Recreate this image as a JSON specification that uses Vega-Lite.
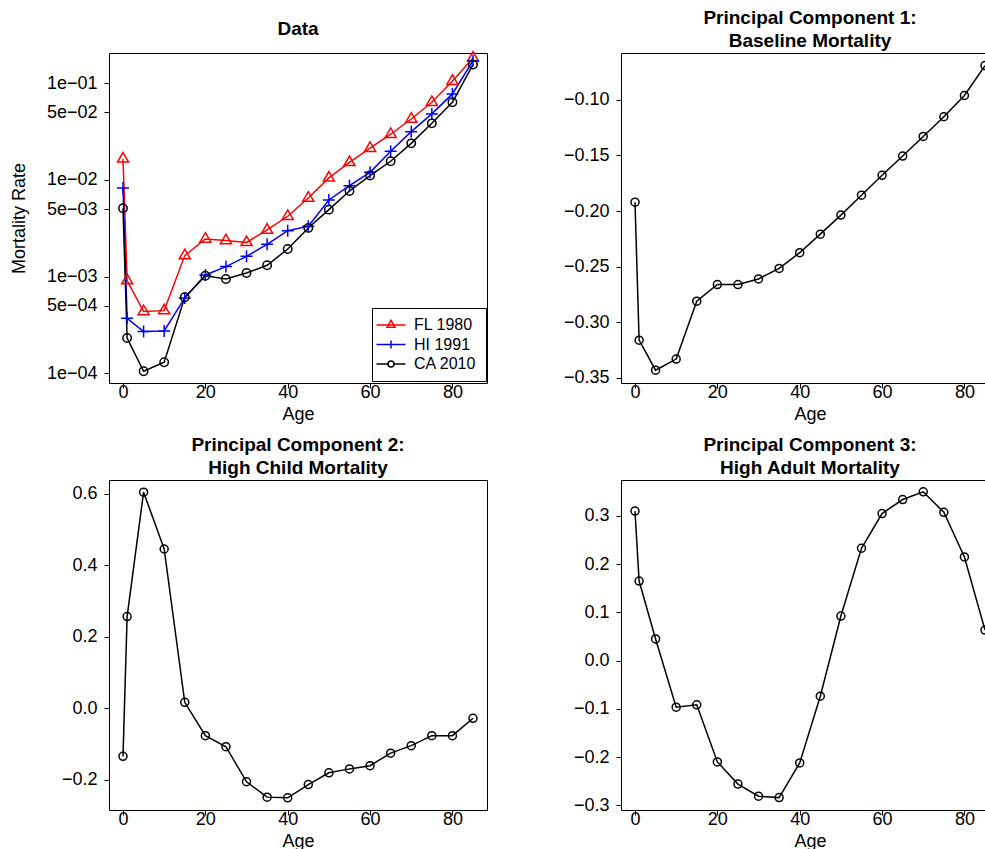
{
  "$schema": "https://vega.github.io/schema/vega-lite/v6.json",
  "padding": {"left": 9, "top": 8, "right": 0, "bottom": 0},
  "background": "white",
  "config": {
    "font": "Liberation Sans",
    "view": {"stroke": "black", "strokeWidth": 1},
    "axis": {"grid": false, "domain": false, "ticks": true, "tickColor": "black", "tickSize": 5, "tickWidth": 1,
      "labelFont": "Liberation Sans", "labelFontSize": 18, "labelColor": "black", "labelFlush": false, "labelOverlap": false,
      "titleFont": "Liberation Sans", "titleFontSize": 18, "titleFontWeight": "normal", "titleColor": "black"},
    "axisX": {"labelPadding": -5, "titlePadding": 4},
    "axisY": {"labelPadding": 7, "titlePadding": 18},
    "title": {"font": "Liberation Sans", "fontSize": 19, "fontWeight": "bold", "color": "black", "lineHeight": 23, "anchor": "middle"}
  },
  "datasets": {
    "mort": [
      {"age": 0, "series": "FL 1980", "rate": 0.0165},
      {"age": 1, "series": "FL 1980", "rate": 0.00091},
      {"age": 5, "series": "FL 1980", "rate": 0.000435},
      {"age": 10, "series": "FL 1980", "rate": 0.000445},
      {"age": 15, "series": "FL 1980", "rate": 0.00165},
      {"age": 20, "series": "FL 1980", "rate": 0.00245},
      {"age": 25, "series": "FL 1980", "rate": 0.00236},
      {"age": 30, "series": "FL 1980", "rate": 0.00226},
      {"age": 35, "series": "FL 1980", "rate": 0.00304},
      {"age": 40, "series": "FL 1980", "rate": 0.00421},
      {"age": 45, "series": "FL 1980", "rate": 0.0065},
      {"age": 50, "series": "FL 1980", "rate": 0.0105},
      {"age": 55, "series": "FL 1980", "rate": 0.0152},
      {"age": 60, "series": "FL 1980", "rate": 0.0213},
      {"age": 65, "series": "FL 1980", "rate": 0.0297},
      {"age": 70, "series": "FL 1980", "rate": 0.0427},
      {"age": 75, "series": "FL 1980", "rate": 0.0636},
      {"age": 80, "series": "FL 1980", "rate": 0.105},
      {"age": 85, "series": "FL 1980", "rate": 0.183},
      {"age": 0, "series": "HI 1991", "rate": 0.00826},
      {"age": 1, "series": "HI 1991", "rate": 0.000371},
      {"age": 5, "series": "HI 1991", "rate": 0.00027},
      {"age": 10, "series": "HI 1991", "rate": 0.000274},
      {"age": 15, "series": "HI 1991", "rate": 0.000602},
      {"age": 20, "series": "HI 1991", "rate": 0.00104},
      {"age": 25, "series": "HI 1991", "rate": 0.00127},
      {"age": 30, "series": "HI 1991", "rate": 0.00162},
      {"age": 35, "series": "HI 1991", "rate": 0.00216},
      {"age": 40, "series": "HI 1991", "rate": 0.00299},
      {"age": 45, "series": "HI 1991", "rate": 0.00332},
      {"age": 50, "series": "HI 1991", "rate": 0.00621},
      {"age": 55, "series": "HI 1991", "rate": 0.00873},
      {"age": 60, "series": "HI 1991", "rate": 0.012},
      {"age": 65, "series": "HI 1991", "rate": 0.0198},
      {"age": 70, "series": "HI 1991", "rate": 0.0316},
      {"age": 75, "series": "HI 1991", "rate": 0.0482},
      {"age": 80, "series": "HI 1991", "rate": 0.0776},
      {"age": 85, "series": "HI 1991", "rate": 0.171},
      {"age": 0, "series": "CA 2010", "rate": 0.00509},
      {"age": 1, "series": "CA 2010", "rate": 0.000232},
      {"age": 5, "series": "CA 2010", "rate": 0.000105},
      {"age": 10, "series": "CA 2010", "rate": 0.00013},
      {"age": 15, "series": "CA 2010", "rate": 0.000611},
      {"age": 20, "series": "CA 2010", "rate": 0.00102},
      {"age": 25, "series": "CA 2010", "rate": 0.000946},
      {"age": 30, "series": "CA 2010", "rate": 0.00109},
      {"age": 35, "series": "CA 2010", "rate": 0.00131},
      {"age": 40, "series": "CA 2010", "rate": 0.00193},
      {"age": 45, "series": "CA 2010", "rate": 0.00319},
      {"age": 50, "series": "CA 2010", "rate": 0.00493},
      {"age": 55, "series": "CA 2010", "rate": 0.00769},
      {"age": 60, "series": "CA 2010", "rate": 0.0111},
      {"age": 65, "series": "CA 2010", "rate": 0.0156},
      {"age": 70, "series": "CA 2010", "rate": 0.0239},
      {"age": 75, "series": "CA 2010", "rate": 0.0385},
      {"age": 80, "series": "CA 2010", "rate": 0.0636},
      {"age": 85, "series": "CA 2010", "rate": 0.156}
    ],
    "pc": [
      {"age": 0, "pc1": -0.192, "pc2": -0.134, "pc3": 0.31},
      {"age": 1, "pc1": -0.316, "pc2": 0.257, "pc3": 0.165},
      {"age": 5, "pc1": -0.343, "pc2": 0.605, "pc3": 0.045},
      {"age": 10, "pc1": -0.333, "pc2": 0.446, "pc3": -0.0966},
      {"age": 15, "pc1": -0.281, "pc2": 0.0172, "pc3": -0.0917},
      {"age": 20, "pc1": -0.266, "pc2": -0.076, "pc3": -0.21},
      {"age": 25, "pc1": -0.266, "pc2": -0.107, "pc3": -0.256},
      {"age": 30, "pc1": -0.261, "pc2": -0.205, "pc3": -0.281},
      {"age": 35, "pc1": -0.2515, "pc2": -0.248, "pc3": -0.284},
      {"age": 40, "pc1": -0.2374, "pc2": -0.25, "pc3": -0.212},
      {"age": 45, "pc1": -0.2207, "pc2": -0.213, "pc3": -0.0738},
      {"age": 50, "pc1": -0.2036, "pc2": -0.18, "pc3": 0.0924},
      {"age": 55, "pc1": -0.1857, "pc2": -0.169, "pc3": 0.233},
      {"age": 60, "pc1": -0.1678, "pc2": -0.16, "pc3": 0.305},
      {"age": 65, "pc1": -0.1505, "pc2": -0.125, "pc3": 0.334},
      {"age": 70, "pc1": -0.1329, "pc2": -0.104, "pc3": 0.35},
      {"age": 75, "pc1": -0.1152, "pc2": -0.076, "pc3": 0.3076},
      {"age": 80, "pc1": -0.0961, "pc2": -0.076, "pc3": 0.215},
      {"age": 85, "pc1": -0.0692, "pc2": -0.0275, "pc3": 0.0634}
    ]
  },
  "columns": 2,
  "bounds": "flush",
  "spacing": {"row": 97, "column": 134},
  "concat": [
    {
      "width": 378, "height": 330,
      "title": {"text": "Data", "offset": 10},
      "data": {"name": "mort"},
      "encoding": {
        "x": {"field": "age", "type": "quantitative", "scale": {"domain": [-3.4, 88.4], "nice": false, "zero": false}, "axis": {"values": [0, 20, 40, 60, 80], "title": "Age"}},
        "y": {"field": "rate", "type": "quantitative", "scale": {"type": "log", "domain": [0.0000794, 0.2056], "nice": false},
          "axis": {"values": [0.0001, 0.0005, 0.001, 0.005, 0.01, 0.05, 0.1], "title": "Mortality Rate",
            "labelExpr": "datum.value < 0.0002 ? '1e−04' : datum.value < 0.0007 ? '5e−04' : datum.value < 0.002 ? '1e−03' : datum.value < 0.007 ? '5e−03' : datum.value < 0.02 ? '1e−02' : datum.value < 0.07 ? '5e−02' : '1e−01'"}},
        "color": {"field": "series", "type": "nominal", "scale": {"domain": ["FL 1980", "HI 1991", "CA 2010"], "range": ["#FF0000", "#0000FF", "#000000"]},
          "legend": {"title": null, "orient": "none", "legendX": 263, "legendY": 255, "strokeColor": "black", "fillColor": "white", "padding": 9, "symbolSize": 210, "symbolStrokeWidth": 1.5, "symbolOffset": 2, "labelFontSize": 16, "labelFont": "Liberation Sans", "labelColor": "black", "labelOffset": 15, "rowPadding": 3.5,
            "encode": {"symbols": {"update": {"fill": {"value": "transparent"}, "shape": {"signal": "datum.value === 'FL 1980' ? 'M-2,0H2M0,-0.64L0.55,0.32L-0.55,0.32Z' : datum.value === 'HI 1991' ? 'M-2,0H2M0,-0.55V0.55' : 'M-2,0H-0.42M0.42,0H2M0.42,0A0.42,0.42 0 1,1 -0.42,0A0.42,0.42 0 1,1 0.42,0'"}}}}}}
      },
      "layer": [
        {"mark": {"type": "line", "strokeWidth": 1.5}},
        {"transform": [{"filter": "datum.series === 'FL 1980'"}],
          "mark": {"type": "point", "shape": "M0,-1.06L0.92,0.53L-0.92,0.53Z", "filled": false, "strokeWidth": 1.5, "size": 144, "opacity": 1}},
        {"transform": [{"filter": "datum.series === 'HI 1991'"}],
          "mark": {"type": "point", "shape": "M-1,0H1M0,-1V1", "filled": false, "strokeWidth": 1.5, "size": 144, "opacity": 1}},
        {"transform": [{"filter": "datum.series === 'CA 2010'"}],
          "mark": {"type": "point", "shape": "M0.7,0A0.7,0.7 0 1,1 -0.7,0A0.7,0.7 0 1,1 0.7,0", "filled": false, "strokeWidth": 1.5, "size": 144, "opacity": 1}}
      ]
    },
    {
      "width": 378, "height": 330,
      "title": {"text": ["Principal Component 1:", " Baseline Mortality"], "offset": 2},
      "data": {"name": "pc"},
      "encoding": {
        "x": {"field": "age", "type": "quantitative", "scale": {"domain": [-3.4, 88.4], "nice": false, "zero": false}, "axis": {"values": [0, 20, 40, 60, 80], "title": "Age"}},
        "y": {"field": "pc1", "type": "quantitative", "scale": {"domain": [-0.3545, -0.0579], "nice": false, "zero": false},
          "axis": {"values": [-0.35, -0.3, -0.25, -0.2, -0.15, -0.1], "format": ".2f", "title": null}}
      },
      "layer": [
        {"mark": {"type": "line", "strokeWidth": 1.5, "color": "black"}},
        {"mark": {"type": "point", "shape": "circle", "filled": false, "strokeWidth": 1.5, "size": 64, "color": "black", "opacity": 1}}
      ]
    },
    {
      "width": 378, "height": 330,
      "title": {"text": ["Principal Component 2:", " High Child Mortality"], "offset": 2},
      "data": {"name": "pc"},
      "encoding": {
        "x": {"field": "age", "type": "quantitative", "scale": {"domain": [-3.4, 88.4], "nice": false, "zero": false}, "axis": {"values": [0, 20, 40, 60, 80], "title": "Age"}},
        "y": {"field": "pc2", "type": "quantitative", "scale": {"domain": [-0.284, 0.639], "nice": false, "zero": false},
          "axis": {"values": [-0.2, 0, 0.2, 0.4, 0.6], "format": ".1f", "title": null}}
      },
      "layer": [
        {"mark": {"type": "line", "strokeWidth": 1.5, "color": "black"}},
        {"mark": {"type": "point", "shape": "circle", "filled": false, "strokeWidth": 1.5, "size": 64, "color": "black", "opacity": 1}}
      ]
    },
    {
      "width": 378, "height": 330,
      "title": {"text": ["Principal Component 3:", " High Adult Mortality"], "offset": 2},
      "data": {"name": "pc"},
      "encoding": {
        "x": {"field": "age", "type": "quantitative", "scale": {"domain": [-3.4, 88.4], "nice": false, "zero": false}, "axis": {"values": [0, 20, 40, 60, 80], "title": "Age"}},
        "y": {"field": "pc3", "type": "quantitative", "scale": {"domain": [-0.3097, 0.3745], "nice": false, "zero": false},
          "axis": {"values": [-0.3, -0.2, -0.1, 0, 0.1, 0.2, 0.3], "format": ".1f", "title": null}}
      },
      "layer": [
        {"mark": {"type": "line", "strokeWidth": 1.5, "color": "black"}},
        {"mark": {"type": "point", "shape": "circle", "filled": false, "strokeWidth": 1.5, "size": 64, "color": "black", "opacity": 1}}
      ]
    }
  ]
}
